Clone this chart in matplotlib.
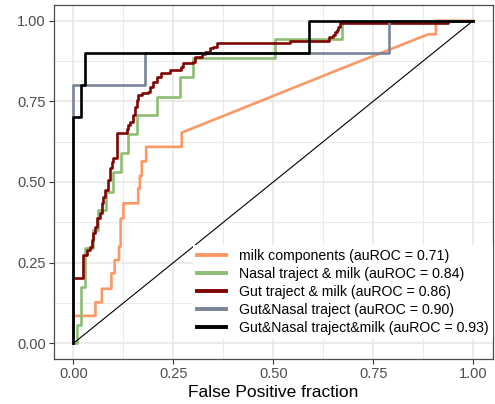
import numpy as np
import matplotlib.pyplot as plt
from matplotlib.ticker import MultipleLocator, FormatStrFormatter

plt.rcParams['font.family'] = ['Liberation Sans', 'DejaVu Sans']

# ROC curves: (false positive fraction, true positive fraction)
# milk components: explicit path vertices (has a tied-score diagonal)
milk_fpr = [0, 0, 0.055, 0.055, 0.071, 0.071, 0.095, 0.095, 0.103, 0.103, 0.114, 0.114,
            0.118, 0.118, 0.125, 0.125, 0.162, 0.162, 0.166, 0.166, 0.171, 0.171, 0.182,
            0.182, 0.271, 0.271, 0.665, 0.888, 0.907, 0.907, 1.0]
milk_tpr = [0, 0.085, 0.085, 0.127, 0.127, 0.169, 0.169, 0.217, 0.217, 0.258, 0.258, 0.300,
            0.300, 0.387, 0.387, 0.434, 0.434, 0.480, 0.480, 0.519, 0.519, 0.564, 0.564,
            0.609, 0.609, 0.653, 0.849, 0.958, 0.958, 1.0, 1.0]

# the others are pure staircases: points where the curve steps up
nasal_fpr = [0, 0.008, 0.018, 0.029, 0.050, 0.062, 0.082, 0.098, 0.119, 0.137, 0.160,
             0.210, 0.267, 0.300, 0.504, 0.672, 1.0]
nasal_tpr = [0, 0.057, 0.175, 0.294, 0.351, 0.413, 0.470, 0.532, 0.589, 0.650, 0.707,
             0.764, 0.825, 0.883, 0.942, 1.0, 1.0]

gut_fpr = [0, 0, 0.025, 0.033, 0.041, 0.046, 0.050, 0.054, 0.058, 0.066, 0.071, 0.075,
           0.079, 0.087, 0.091, 0.096, 0.100, 0.108, 0.133, 0.137, 0.141, 0.148, 0.154,
           0.158, 0.162, 0.171, 0.187, 0.191, 0.200, 0.208, 0.219, 0.242, 0.270, 0.275,
           0.300, 0.304, 0.321, 0.329, 0.342, 0.350, 0.358, 0.542, 0.640, 0.650, 0.655,
           0.659, 0.663, 0.667, 0.938, 1.0]
gut_tpr = [0, 0.201, 0.273, 0.289, 0.299, 0.320, 0.341, 0.361, 0.387, 0.403, 0.434, 0.454,
           0.475, 0.506, 0.542, 0.563, 0.573, 0.653, 0.665, 0.676, 0.687, 0.707, 0.733,
           0.754, 0.769, 0.775, 0.780, 0.793, 0.811, 0.826, 0.839, 0.847, 0.857, 0.868,
           0.873, 0.888, 0.896, 0.904, 0.914, 0.919, 0.930, 0.938, 0.948, 0.955, 0.964,
           0.971, 0.981, 0.992, 1.0, 1.0]

gutnasal_fpr = [0, 0, 0.180, 0.790, 1.0]
gutnasal_tpr = [0, 0.80, 0.90, 1.0, 1.0]

all_fpr = [0, 0, 0.019, 0.028, 0.590, 1.0]
all_tpr = [0, 0.70, 0.80, 0.90, 1.0, 1.0]

labels = ["milk components (auROC = 0.71)",
          "Nasal traject & milk (auROC = 0.84)",
          "Gut traject & milk (auROC = 0.86)",
          "Gut&Nasal traject (auROC = 0.90)",
          "Gut&Nasal traject&milk (auROC = 0.93)"]
colors = ["#FC9866", "#8DBE76", "#7E0604", "#7A8497", "#000000"]

chance = [0, 1]

fig = plt.figure(figsize=(4.95, 4.04), dpi=100)
ax = fig.add_axes([53.5 / 495, 1 - 359.4 / 404, 439.5 / 495, 354.8 / 404])

lw = 1.9
ax.plot(milk_fpr, milk_tpr, color=colors[0], lw=lw, label=labels[0])
ax.plot(nasal_fpr, nasal_tpr, color=colors[1], lw=lw, drawstyle="steps-post", label=labels[1])
ax.plot(gut_fpr, gut_tpr, color=colors[2], lw=lw, drawstyle="steps-post", label=labels[2])
ax.plot(gutnasal_fpr, gutnasal_tpr, color=colors[3], lw=lw, drawstyle="steps-post", label=labels[3])
ax.plot(all_fpr, all_tpr, color=colors[4], lw=lw, drawstyle="steps-post", label=labels[4])
ax.plot(chance, chance, color="black", lw=0.8)

ax.set_xlim(-0.05, 1.05)
ax.set_ylim(-0.05, 1.05)
ax.xaxis.set_major_locator(MultipleLocator(0.25))
ax.yaxis.set_major_locator(MultipleLocator(0.25))
ax.xaxis.set_minor_locator(MultipleLocator(0.125))
ax.yaxis.set_minor_locator(MultipleLocator(0.125))
ax.xaxis.set_major_formatter(FormatStrFormatter("%.2f"))
ax.yaxis.set_major_formatter(FormatStrFormatter("%.2f"))

ax.set_axisbelow(True)
ax.grid(which="major", color="#EBE8E3", lw=1.2)
ax.grid(which="minor", color="#EBE8E3", lw=0.6)
for s in ax.spines.values():
    s.set_color("#4d4d4d")
    s.set_linewidth(0.9)
ax.tick_params(which="major", length=3.5, width=0.8, color="#333333",
               labelcolor="#4D4D4D", labelsize=10.5, pad=2)
ax.tick_params(which="minor", length=0)

ax.set_xlabel("False Positive fraction", fontsize=12.5, labelpad=3)

leg = ax.legend(loc="lower left", bbox_to_anchor=(0.317, 0.058), frameon=True,
                facecolor="white", edgecolor="none", framealpha=1, fancybox=False,
                handlelength=2.05, handletextpad=0.9, labelspacing=0.27,
                borderpad=0.3, borderaxespad=0, fontsize=10.2)
for h in leg.get_lines():
    h.set_linewidth(2.8)

fig.savefig("out.png", dpi=100)
